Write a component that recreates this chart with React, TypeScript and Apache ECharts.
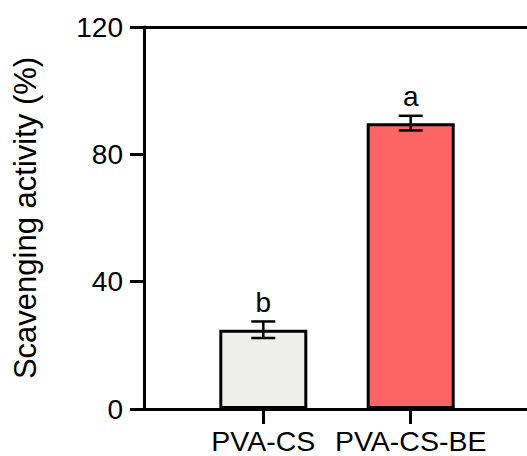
import React, { useEffect, useRef } from "react";
import * as echarts from "echarts";

const categories = ["PVA-CS", "PVA-CS-BE"];
const means = [24.9, 89.8];
const errors = [2.6, 2.3];
const letters = ["b", "a"];
const barColors = ["#EEEFED", "#FD6565"];
const yTicks = { min: 0, max: 120, interval: 40 };

const FONT = "Liberation Sans, Arial, sans-serif";

export default function App() {
  const ref = useRef<HTMLDivElement>(null);
  useEffect(() => {
    document.body.style.margin = "0";
    const chart = echarts.init(ref.current!, null, { renderer: "svg" });
    const grids = [
      { left: 144, right: -10, top: 27, bottom: 47 },
      { left: 189.6, right: 42.6, top: 27, bottom: 47 },
    ];
    chart.setOption({
      animation: false,
      grid: grids,
      xAxis: [
        {
          gridIndex: 0,
          type: "value",
          min: 0,
          max: 1,
          axisLine: { show: true, onZero: false, lineStyle: { color: "#000", width: 3 } },
          axisTick: { show: false },
          axisLabel: { show: false },
          splitLine: { show: false },
        },
        {
          gridIndex: 0,
          type: "value",
          position: "top",
          min: 0,
          max: 1,
          axisLine: { show: true, onZero: false, lineStyle: { color: "#000", width: 3 } },
          axisTick: { show: false },
          axisLabel: { show: false },
          splitLine: { show: false },
        },
        {
          gridIndex: 1,
          type: "category",
          data: categories,
          axisLine: { show: false },
          axisTick: { show: true, alignWithLabel: true, length: 15, lineStyle: { color: "#000", width: 3 } },
          axisLabel: { color: "#000", fontSize: 28.5, fontFamily: FONT, margin: 17, interval: 0 },
        },
      ],
      yAxis: [
        {
          gridIndex: 0,
          type: "value",
          min: yTicks.min,
          max: yTicks.max,
          interval: yTicks.interval,
          name: "Scavenging activity (%)",
          nameLocation: "middle",
          nameGap: 103,
          nameTextStyle: { color: "#000", fontSize: 31, fontFamily: FONT },
          axisLine: { show: true, lineStyle: { color: "#000", width: 3 } },
          axisTick: { show: true, length: 14, lineStyle: { color: "#000", width: 3 } },
          axisLabel: { color: "#000", fontSize: 28, fontFamily: FONT, margin: 21 },
          splitLine: { show: false },
        },
        {
          gridIndex: 1,
          type: "value",
          min: yTicks.min,
          max: yTicks.max,
          show: false,
        },
      ],
      series: [
        {
          type: "bar",
          xAxisIndex: 2,
          yAxisIndex: 1,
          barWidth: 88,
          z: 2,
          data: means.map((v, i) => ({
            value: v,
            itemStyle: { color: barColors[i], borderColor: "#000", borderWidth: 3 },
          })),
        },
        {
          type: "custom",
          xAxisIndex: 2,
          yAxisIndex: 1,
          z: 10,
          clip: false,
          data: means.map((m, i) => [i, m, errors[i]]),
          renderItem: (params: any, api: any) => {
            const x = api.value(0);
            const m = api.value(1);
            const e = api.value(2);
            const top = api.coord([x, m + e]);
            const bot = api.coord([x, m - e]);
            const cx = top[0];
            const half = 12;
            const st = { stroke: "#000", lineWidth: 2.5 };
            return {
              type: "group",
              children: [
                { type: "line", z2: 10, shape: { x1: cx, y1: top[1], x2: cx, y2: bot[1] }, style: st },
                { type: "line", z2: 10, shape: { x1: cx - half, y1: top[1], x2: cx + half, y2: top[1] }, style: st },
                { type: "line", z2: 10, shape: { x1: cx - half, y1: bot[1], x2: cx + half, y2: bot[1] }, style: st },
                {
                  type: "text",
                  x: cx,
                  y: top[1] - 5,
                  style: {
                    text: letters[params.dataIndex],
                    fill: "#000",
                    fontSize: 28,
                    fontFamily: FONT,
                    align: "center",
                    verticalAlign: "bottom",
                  },
                },
              ],
            };
          },
        },
      ],
    });
    return () => chart.dispose();
  }, []);
  return <div ref={ref} style={{ width: 527, height: 456 }} />;
}
